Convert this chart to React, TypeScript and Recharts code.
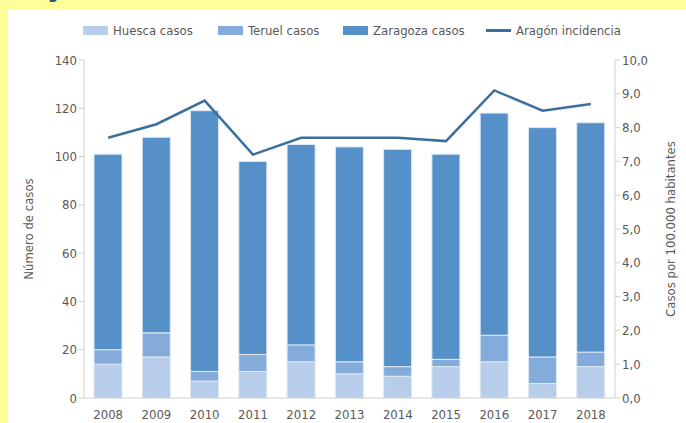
import { ComposedChart, Bar, Line, XAxis, YAxis } from 'recharts';

const YEARS = ['2008', '2009', '2010', '2011', '2012', '2013', '2014', '2015', '2016', '2017', '2018'];
const HUESCA = [14, 17, 7, 11, 15, 10, 9, 13, 15, 6, 13];
const TERUEL = [6, 10, 4, 7, 7, 5, 4, 3, 11, 11, 6];
const ZARAGOZA = [81, 81, 108, 80, 83, 89, 90, 85, 92, 95, 95];
const INCIDENCIA = [7.7, 8.1, 8.8, 7.2, 7.7, 7.7, 7.7, 7.6, 9.1, 8.5, 8.7];

const LEFT_TICKS = [0, 20, 40, 60, 80, 100, 120, 140];
const RIGHT_TICKS = [0, 1, 2, 3, 4, 5, 6, 7, 8, 9, 10];

const C_HUESCA = '#b7cde9';
const C_TERUEL = '#84acdb';
const C_ZARAGOZA = '#5591c8';
const C_LINE = '#3b6fa0';
const TXT = '#595959';
const AXIS = '#d0d0d0';
const FONT = '"DejaVu Sans Condensed", "Liberation Sans", sans-serif';

const data = YEARS.map((y, i) => ({
  year: y,
  huesca: HUESCA[i],
  teruel: TERUEL[i],
  zaragoza: ZARAGOZA[i],
  inc: INCIDENCIA[i],
}));

// legend entries, x = left edge of the swatch inside the white panel
const LEGEND = [
  { label: 'Huesca casos', color: C_HUESCA, line: false, x: 75 },
  { label: 'Teruel casos', color: C_TERUEL, line: false, x: 210 },
  { label: 'Zaragoza casos', color: C_ZARAGOZA, line: false, x: 335 },
  { label: 'Aragón incidencia', color: C_LINE, line: true, x: 478 },
];

export default function App() {
  const tick = { fontSize: 13, fill: TXT, fontFamily: FONT };
  const lbl = { fontSize: 13, fill: TXT, fontFamily: FONT };
  return (
    <div style={{ position: 'fixed', left: 0, top: 0, width: 686, height: 423, background: '#ffff99', overflow: 'hidden' }}>
      <div style={{ position: 'absolute', left: 48, top: -16, fontFamily: FONT, fontWeight: 700, fontSize: 16, color: '#1f4e79' }}>g</div>
      <div style={{ position: 'absolute', left: 8, top: 10, width: 678, height: 413, background: '#fff' }}>
        {/* legend */}
        {LEGEND.map(l => (
          <div key={l.label} style={{ position: 'absolute', left: l.x, top: 11, height: 18, display: 'flex', alignItems: 'center', gap: 5, fontFamily: FONT, fontSize: 13, color: TXT, whiteSpace: 'nowrap' }}>
            {l.line
              ? <span style={{ width: 25, height: 3, background: l.color, display: 'inline-block' }} />
              : <span style={{ width: 25, height: 9, background: l.color, display: 'inline-block' }} />}
            <span>{l.label}</span>
          </div>
        ))}
        <ComposedChart width={678} height={413} data={data} margin={{ top: 50, right: 0, left: 0, bottom: 0 }} barSize={28}>
          <XAxis dataKey="year" tick={tick} tickLine={false} axisLine={{ stroke: AXIS }} height={25} tickMargin={6} />
          <YAxis yAxisId="l" domain={[0, 140]} ticks={LEFT_TICKS} tick={tick} width={76}
            axisLine={{ stroke: AXIS }} tickLine={{ stroke: AXIS }} tickSize={5} interval={0}
            label={{ value: 'Número de casos', angle: -90, position: 'center', dx: -18, style: lbl }} />
          <YAxis yAxisId="r" orientation="right" domain={[0, 10]} ticks={RIGHT_TICKS} tick={tick} width={71}
            tickFormatter={v => v.toFixed(1).replace('.', ',')}
            axisLine={{ stroke: AXIS }} tickLine={{ stroke: AXIS }} tickSize={5} interval={0}
            label={{ value: 'Casos por 100.000 habitantes', angle: -90, position: 'center', dx: 20, style: lbl }} />
          <Bar yAxisId="l" dataKey="huesca" stackId="a" fill={C_HUESCA} stroke="#dfe9f5" strokeWidth={1} isAnimationActive={false} />
          <Bar yAxisId="l" dataKey="teruel" stackId="a" fill={C_TERUEL} stroke="#dfe9f5" strokeWidth={1} isAnimationActive={false} />
          <Bar yAxisId="l" dataKey="zaragoza" stackId="a" fill={C_ZARAGOZA} stroke="#dfe9f5" strokeWidth={1} isAnimationActive={false} />
          <Line yAxisId="r" dataKey="inc" type="linear" stroke={C_LINE} strokeWidth={2.5} dot={false} isAnimationActive={false} />
        </ComposedChart>
      </div>
    </div>
  );
}
